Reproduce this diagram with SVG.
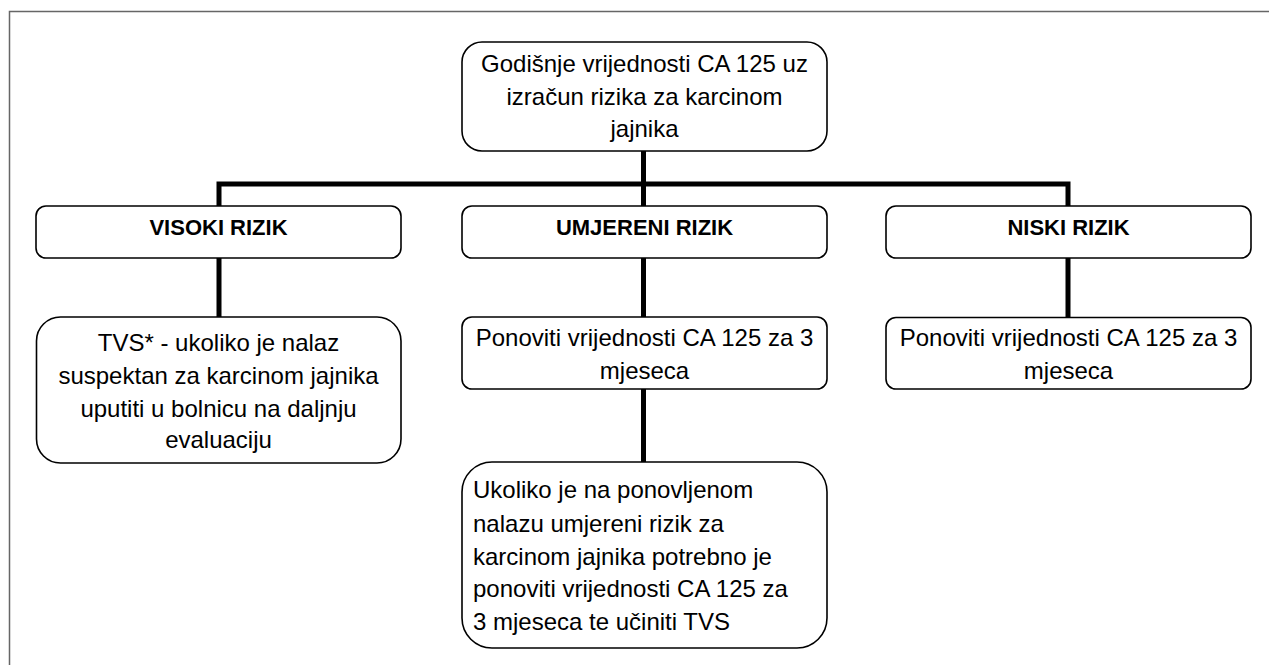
<svg xmlns="http://www.w3.org/2000/svg" width="1269" height="665" viewBox="0 0 1269 665">
<style>
.frame{stroke:#666;stroke-width:1.5;fill:none}
.conn{stroke:#000;stroke-width:5;fill:none}
.box{fill:#fff;stroke:#000;stroke-width:1.6}
.t{font-family:"Liberation Sans",Arial,sans-serif;font-size:24px;fill:#000;text-anchor:middle}
.b{font-family:"Liberation Sans",Arial,sans-serif;font-size:22px;font-weight:bold;fill:#000;text-anchor:middle}
.l{text-anchor:start}
</style>
<rect width="1269" height="665" fill="#fff"/>
<path class="frame" d="M9.5,665 V11.5 H1269"/>
<g id="connectors">
<path class="conn" d="M643.5,151 V462"/>
<path class="conn" d="M219,317 V184 H1068 V317"/>
</g>
<g id="top">
<rect class="box" x="462" y="42" width="365" height="109" rx="20"/>
<text class="t" x="644.5" y="72">Godišnje vrijednosti CA 125 uz</text>
<text class="t" x="644.5" y="105">izračun rizika za karcinom</text>
<text class="t" x="644.5" y="137">jajnika</text>
</g>
<g id="visoki">
<rect class="box" x="36" y="206" width="365" height="52" rx="10"/>
<text class="b" x="218.5" y="235">VISOKI RIZIK</text>
</g>
<g id="umjereni">
<rect class="box" x="462" y="206" width="365" height="52" rx="10"/>
<text class="b" x="644.5" y="235">UMJERENI RIZIK</text>
</g>
<g id="niski">
<rect class="box" x="886" y="206" width="365" height="52" rx="10"/>
<text class="b" x="1068.5" y="235">NISKI RIZIK</text>
</g>
<g id="visoki-action">
<rect class="box" x="36.5" y="317" width="364.5" height="146" rx="24"/>
<text class="t" x="218.5" y="351">TVS* - ukoliko je nalaz</text>
<text class="t" x="218.5" y="383.5">suspektan za karcinom jajnika</text>
<text class="t" x="218.5" y="416.5">uputiti u bolnicu na daljnju</text>
<text class="t" x="218.5" y="448">evaluaciju</text>
</g>
<g id="umjereni-action">
<rect class="box" x="462" y="317" width="365" height="72" rx="10"/>
<text class="t" x="644.5" y="346">Ponoviti vrijednosti CA 125 za 3</text>
<text class="t" x="644.5" y="379">mjeseca</text>
</g>
<g id="niski-action">
<rect class="box" x="886" y="317.5" width="365" height="71.5" rx="10"/>
<text class="t" x="1068.5" y="346">Ponoviti vrijednosti CA 125 za 3</text>
<text class="t" x="1068.5" y="379">mjeseca</text>
</g>
<g id="umjereni-followup">
<rect class="box" x="462" y="462" width="365" height="186" rx="30"/>
<text class="t l" x="473" y="498">Ukoliko je na ponovljenom</text>
<text class="t l" x="473" y="531.5">nalazu umjereni rizik za</text>
<text class="t l" x="473" y="564.5">karcinom jajnika potrebno je</text>
<text class="t l" x="473" y="597">ponoviti vrijednosti CA 125 za</text>
<text class="t l" x="473" y="629.5">3 mjeseca te učiniti TVS</text>
</g>
</svg>
